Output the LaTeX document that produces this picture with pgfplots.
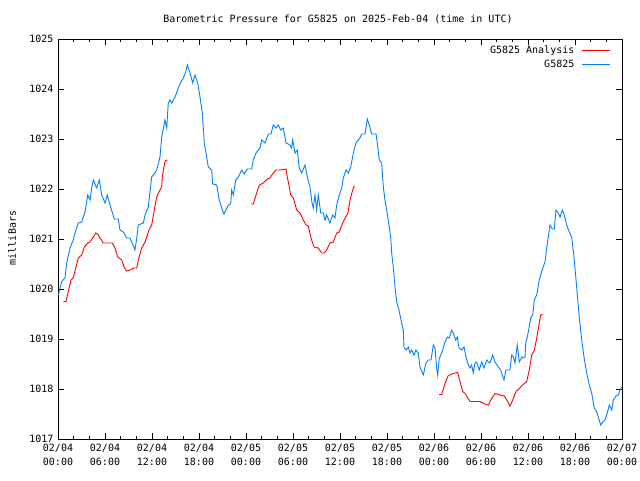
\documentclass[border=0pt]{standalone}
\usepackage{pgfplots}
\pgfplotsset{compat=1.18}
\usepackage{fontspec}
\setmainfont{DejaVu Sans Mono}
\setmonofont{DejaVu Sans Mono}
\definecolor{gblue}{RGB}{0,128,255}
\definecolor{gred}{RGB}{255,0,0}
\begin{document}
\begin{tikzpicture}[x=1pt,y=1pt]
\useasboundingbox (0,0) rectangle (640,480);
\fill[white] (0,0) rectangle (640,480);
\node[font=\fontsize{10}{12}\selectfont] at (338,461) {Barometric Pressure for G5825 on 2025-Feb-04 (time in UTC)};
\node[font=\fontsize{10}{12}\selectfont, rotate=90] at (12,242) {milliBars};
\begin{axis}[
  at={(58pt,41pt)}, anchor=south west,
  scale only axis, width=564pt, height=400pt,
  xmin=0, xmax=72, ymin=1017, ymax=1025,
  axis line style={line width=0.8pt},
  tick style={line width=0.8pt, black},
  tick align=inside, tick pos=both,
  major tick length=6pt, minor tick length=3pt,
  xtick={0,6,...,72}, minor x tick num=2,
  xticklabels={{02/04\\00:00},{02/04\\06:00},{02/04\\12:00},{02/04\\18:00},{02/05\\00:00},{02/05\\06:00},{02/05\\12:00},{02/05\\18:00},{02/06\\00:00},{02/06\\06:00},{02/06\\12:00},{02/06\\18:00},{02/07\\00:00}},
  xticklabel style={align=center, font=\fontsize{10}{14}\selectfont, yshift=-2pt},
  ytick={1017,1018,...,1025},
  yticklabels={1017,1018,1019,1020,1021,1022,1023,1024,1025},
  yticklabel style={font=\fontsize{10}{12}\selectfont, xshift=-1pt},
  /pgf/number format/assume math mode=true,
  legend style={at={(1,1)}, anchor=north east, draw=none, fill=none, xshift=-8pt, yshift=-3pt, font=\fontsize{10}{12}\selectfont, row sep=1pt},
  legend cell align=right, legend plot pos=right,
  legend image code/.code={\path[draw=none] (0pt,0pt) rectangle (1pt,0pt); \draw[#1] (6pt,0pt) -- (34pt,0pt);},
]
\addplot[gred, line width=0.9pt, forget plot] coordinates {
(0.68,1019.75) (1.02,1019.75) (1.31,1019.95) (1.66,1020.18) (1.95,1020.22) (2.26,1020.42) (2.59,1020.62) (3.03,1020.68) (3.36,1020.84) (3.79,1020.92) (4.09,1020.94) (4.51,1021.04) (4.81,1021.12) (5.07,1021.10) (5.36,1021.02) (5.78,1020.92) (6.42,1020.92) (6.93,1020.92) (7.28,1020.82) (7.62,1020.64) (8.13,1020.58) (8.43,1020.44) (8.77,1020.36) (9.19,1020.38) (9.61,1020.42) (10.05,1020.42) (10.25,1020.58) (10.68,1020.82) (11.11,1020.94) (11.62,1021.18) (11.96,1021.28) (12.29,1021.58) (12.60,1021.84) (12.89,1021.94) (13.24,1022.04) (13.31,1022.24) (13.66,1022.56) (13.95,1022.58)
};
\addplot[gred, line width=0.9pt, forget plot] coordinates {
(24.64,1021.70) (24.93,1021.70) (25.28,1021.88) (25.70,1022.08) (26.21,1022.12) (26.72,1022.20) (27.06,1022.22) (27.48,1022.32) (27.83,1022.38) (28.34,1022.38) (29.11,1022.40) (29.27,1022.24) (29.53,1022.04) (29.71,1021.88) (30.04,1021.82) (30.47,1021.58) (30.89,1021.52) (31.32,1021.38) (31.66,1021.28) (31.95,1021.26) (32.30,1021.02) (32.68,1020.84) (33.23,1020.82) (33.66,1020.72) (34.00,1020.72) (34.30,1020.78) (34.72,1020.92) (35.14,1020.94) (35.58,1021.12) (35.91,1021.14) (36.34,1021.32) (36.73,1021.44) (37.02,1021.52) (37.28,1021.78) (37.62,1021.98) (37.83,1022.06)
};
\addplot[gred, line width=0.9pt] coordinates {
(48.64,1017.89) (48.98,1017.89) (49.40,1018.11) (49.82,1018.27) (50.46,1018.31) (51.02,1018.33) (51.32,1018.15) (51.66,1017.95) (51.96,1017.91) (52.60,1017.75) (53.87,1017.75) (54.51,1017.70) (54.93,1017.68) (55.36,1017.81) (55.79,1017.91) (56.43,1017.88) (56.97,1017.86) (57.41,1017.75) (57.70,1017.66) (58.05,1017.78) (58.47,1017.95) (58.89,1018.01) (59.32,1018.08) (59.83,1018.15) (60.17,1018.38) (60.47,1018.68) (60.80,1018.77) (61.11,1019.01) (61.32,1019.21) (61.62,1019.48) (61.88,1019.49)
};
\addlegendentry{G5825 Analysis}
\addplot[gblue, line width=0.9pt] coordinates {
(0.04,1019.88) (0.47,1020.15) (0.89,1020.22) (1.11,1020.52) (1.53,1020.82) (1.95,1020.98) (2.17,1021.12) (2.59,1021.32) (3.03,1021.34) (3.45,1021.54) (3.79,1021.88) (4.09,1021.78) (4.30,1022.02) (4.51,1022.18) (4.94,1022.02) (5.27,1022.18) (5.58,1021.88) (6.00,1021.72) (6.29,1021.88) (6.64,1021.68) (7.19,1021.40) (7.70,1021.40) (7.91,1021.18) (8.34,1021.14) (8.77,1021.02) (9.19,1021.02) (9.83,1020.78) (10.05,1021.02) (10.25,1021.28) (10.89,1021.32) (11.11,1021.48) (11.53,1021.64) (11.96,1022.24) (12.38,1022.32) (12.60,1022.38) (13.02,1022.64) (13.24,1023.04) (13.66,1023.38) (13.88,1023.22) (14.08,1023.72) (14.30,1023.78) (14.51,1023.72) (14.94,1023.84) (15.36,1024.02) (15.70,1024.14) (16.00,1024.22) (16.30,1024.34) (16.51,1024.48) (16.85,1024.32) (17.20,1024.12) (17.49,1024.28) (17.83,1024.12) (18.13,1023.84) (18.42,1023.52) (18.68,1022.92) (18.89,1022.72) (19.19,1022.44) (19.62,1022.38) (19.75,1022.10) (20.26,1022.08) (20.59,1021.78) (20.90,1021.62) (21.19,1021.50) (21.74,1021.68) (22.05,1021.70) (22.17,1021.98) (22.38,1021.88) (22.69,1022.18) (23.02,1022.24) (23.45,1022.38) (23.78,1022.30) (24.17,1022.40) (24.73,1022.40) (24.93,1022.58) (25.28,1022.72) (25.79,1022.82) (26.00,1022.98) (26.43,1022.92) (26.85,1023.10) (27.19,1023.10) (27.48,1023.28) (27.83,1023.22) (28.12,1023.28) (28.43,1023.18) (28.76,1023.22) (29.11,1022.92) (29.62,1022.88) (29.83,1022.82) (29.96,1022.98) (30.26,1022.72) (30.55,1022.78) (30.80,1022.42) (31.11,1022.32) (31.53,1022.48) (31.83,1022.24) (32.17,1022.04) (32.43,1021.72) (32.59,1021.62) (32.81,1021.88) (33.02,1021.58) (33.23,1021.88) (33.54,1021.52) (33.87,1021.52) (34.09,1021.38) (34.30,1021.48) (34.72,1021.32) (35.07,1021.48) (35.36,1021.42) (35.58,1021.68) (35.91,1021.88) (36.22,1022.02) (36.42,1022.22) (36.77,1022.38) (37.06,1022.32) (37.37,1022.44) (37.70,1022.72) (38.04,1022.92) (38.55,1023.02) (38.77,1023.10) (39.19,1023.10) (39.49,1023.40) (39.74,1023.28) (40.05,1023.10) (40.60,1023.10) (40.76,1022.92) (41.02,1022.58) (41.32,1022.52) (41.53,1022.04) (41.74,1021.78) (41.96,1021.58) (42.29,1021.24) (42.47,1021.04) (42.60,1020.72) (42.80,1020.44) (43.02,1020.04) (43.24,1019.74) (43.53,1019.58) (43.79,1019.38) (44.08,1019.18) (44.17,1018.84) (44.43,1018.78) (44.72,1018.84) (44.94,1018.72) (45.15,1018.78) (45.45,1018.68) (45.70,1018.78) (46.00,1018.72) (46.21,1018.44) (46.63,1018.28) (46.98,1018.52) (47.27,1018.58) (47.62,1018.58) (47.91,1018.88) (48.13,1018.82) (48.34,1018.42) (48.47,1018.28) (48.68,1018.62) (48.98,1018.72) (49.19,1018.82) (49.40,1018.94) (49.70,1019.04) (49.95,1019.02) (50.26,1019.18) (50.46,1019.12) (50.77,1018.98) (50.97,1019.04) (51.19,1018.82) (51.54,1018.78) (51.83,1018.84) (52.09,1018.64) (52.30,1018.52) (52.60,1018.42) (52.81,1018.48) (53.02,1018.32) (53.23,1018.52) (53.45,1018.54) (53.78,1018.38) (54.09,1018.54) (54.38,1018.42) (54.73,1018.58) (55.06,1018.52) (55.15,1018.52) (55.49,1018.68) (55.79,1018.54) (56.21,1018.44) (56.51,1018.38) (56.94,1018.18) (57.19,1018.38) (57.70,1018.38) (57.92,1018.68) (58.12,1018.64) (58.34,1018.52) (58.63,1018.88) (58.89,1018.54) (59.20,1018.64) (59.40,1018.62) (59.62,1018.64) (59.71,1018.92) (59.91,1019.04) (60.13,1019.22) (60.34,1019.42) (60.60,1019.48) (60.80,1019.78) (61.11,1019.88) (61.44,1020.18) (61.88,1020.42) (62.17,1020.54) (62.39,1020.82) (62.59,1021.04) (62.81,1021.28) (63.10,1021.20) (63.36,1021.20) (63.57,1021.58) (63.87,1021.52) (64.09,1021.44) (64.38,1021.58) (64.63,1021.48) (64.94,1021.28) (65.27,1021.14) (65.58,1021.04) (65.91,1020.58) (66.22,1020.02) (66.55,1019.42) (66.86,1018.98) (67.15,1018.64) (67.49,1018.32) (67.83,1018.08) (68.13,1017.92) (68.46,1017.62) (68.77,1017.54) (68.98,1017.44) (69.28,1017.28) (69.54,1017.34) (69.83,1017.38) (70.12,1017.52) (70.38,1017.68) (70.69,1017.58) (70.89,1017.78) (71.23,1017.86) (71.53,1017.88) (71.74,1017.98) (71.96,1018.04)
};
\addlegendentry{G5825}
\end{axis}
\end{tikzpicture}
\end{document}
